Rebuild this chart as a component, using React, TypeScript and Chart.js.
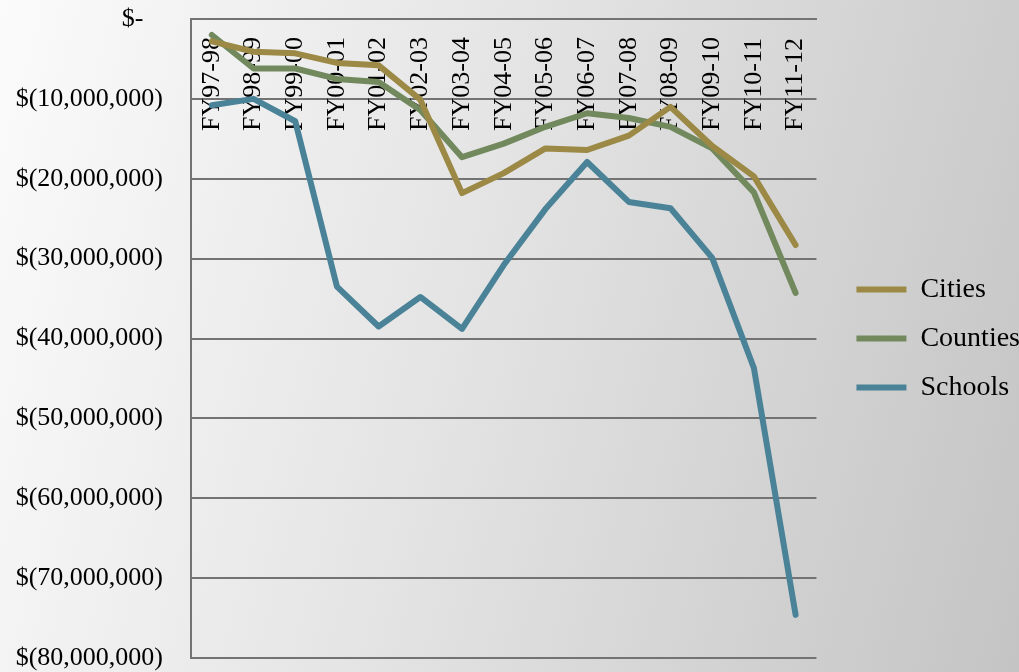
import React, { useEffect, useRef } from "react";
import { Chart, registerables } from "chart.js";

Chart.register(...registerables);

const categories = [
  "FY97-98", "FY98-99", "FY99-00", "FY00-01", "FY01-02", "FY02-03", "FY03-04", "FY04-05",
  "FY05-06", "FY06-07", "FY07-08", "FY08-09", "FY09-10", "FY10-11", "FY11-12",
];

const cities = [
  -2.8e6, -4.1e6, -4.3e6, -5.5e6, -5.8e6, -10.1e6, -21.8e6, -19.3e6,
  -16.2e6, -16.4e6, -14.6e6, -11.0e6, -15.9e6, -19.7e6, -28.3e6,
];

const counties = [
  -2.0e6, -6.2e6, -6.2e6, -7.5e6, -7.9e6, -11.4e6, -17.3e6, -15.6e6,
  -13.5e6, -11.8e6, -12.4e6, -13.5e6, -16.2e6, -21.7e6, -34.3e6,
];

const schools = [
  -10.8e6, -10.0e6, -12.8e6, -33.5e6, -38.5e6, -34.8e6, -38.8e6, -30.8e6,
  -23.8e6, -17.9e6, -22.9e6, -23.7e6, -29.9e6, -43.7e6, -74.6e6,
];

const yTickValues = [0, -10e6, -20e6, -30e6, -40e6, -50e6, -60e6, -70e6, -80e6];
const yTickLabels = [
  "$-   ", "$(10,000,000)", "$(20,000,000)", "$(30,000,000)", "$(40,000,000)",
  "$(50,000,000)", "$(60,000,000)", "$(70,000,000)", "$(80,000,000)",
];

const FONT = "'Liberation Serif', 'Times New Roman', serif";
const GRID = "#737373";

export default function App() {
  const ref = useRef<HTMLCanvasElement | null>(null);

  useEffect(() => {
    if (!ref.current) return;
    const chart = new Chart(ref.current, {
      type: "line",
      data: {
        labels: categories,
        datasets: [
          { label: "Cities", data: cities, borderColor: "#9b8945", backgroundColor: "#9b8945" },
          { label: "Counties", data: counties, borderColor: "#72895d", backgroundColor: "#72895d" },
          { label: "Schools", data: schools, borderColor: "#4a8398", backgroundColor: "#4a8398" },
        ].map((d) => ({
          ...d,
          borderWidth: 6,
          pointRadius: 0,
          tension: 0,
          fill: false,
          borderCapStyle: "round" as const,
          borderJoinStyle: "round" as const,
        })),
      },
      options: {
        responsive: false,
        animation: false,
        devicePixelRatio: 1,
        layout: { padding: { top: 19, bottom: 14, left: 0, right: -11 } },
        plugins: {
          tooltip: { enabled: false },
          legend: {
            position: "right",
            maxWidth: 400,
            labels: {
              usePointStyle: true,
              pointStyle: "line",
              pointStyleWidth: 50,
              padding: 21,
              color: "#000",
              font: { family: FONT, size: 28 },
            },
          },
        },
        scales: {
          x: {
            type: "category",
            position: "top",
            offset: true,
            grid: { display: false, drawTicks: false },
            border: { display: true, color: GRID, width: 2 },
            ticks: {
              minRotation: 90,
              maxRotation: 90,
              autoSkip: false,
              mirror: true,
              padding: 112,
              color: "#000",
              font: { family: FONT, size: 26 },
            },
            afterFit: (s: any) => {
              s.height = 0;
              s.paddingTop = 0;
              s.paddingBottom = 0;
            },
          },
          y: {
            type: "linear",
            position: "left",
            min: -80e6,
            max: 0,
            grid: { color: GRID, lineWidth: 2, drawTicks: false },
            border: { display: true, color: GRID, width: 2 },
            ticks: {
              stepSize: 10e6,
              padding: 28,
              color: "#000",
              font: { family: FONT, size: 26 },
              callback: (v: any) => {
                const i = yTickValues.indexOf(Number(v));
                return i >= 0 ? yTickLabels[i] : "";
              },
            },
            afterFit: (s: any) => {
              s.width = 191;
              s.paddingTop = 0;
              s.paddingBottom = 0;
            },
          },
          spacer: {
            type: "linear",
            position: "right",
            display: true,
            grid: { display: false, drawTicks: false },
            border: { display: false },
            ticks: { display: false },
            afterFit: (s: any) => {
              s.width = 19;
            },
          },
        },
      },
    } as any);
    return () => chart.destroy();
  }, []);

  return (
    <div
      style={{
        position: "fixed",
        left: 0,
        top: 0,
        width: 1019,
        height: 672,
        background: "linear-gradient(105deg, #fbfbfb 0%, #e4e4e4 45%, #c4c4c4 100%)",
      }}
    >
      <canvas ref={ref} width={1019} height={672} style={{ display: "block" }} />
    </div>
  );
}
